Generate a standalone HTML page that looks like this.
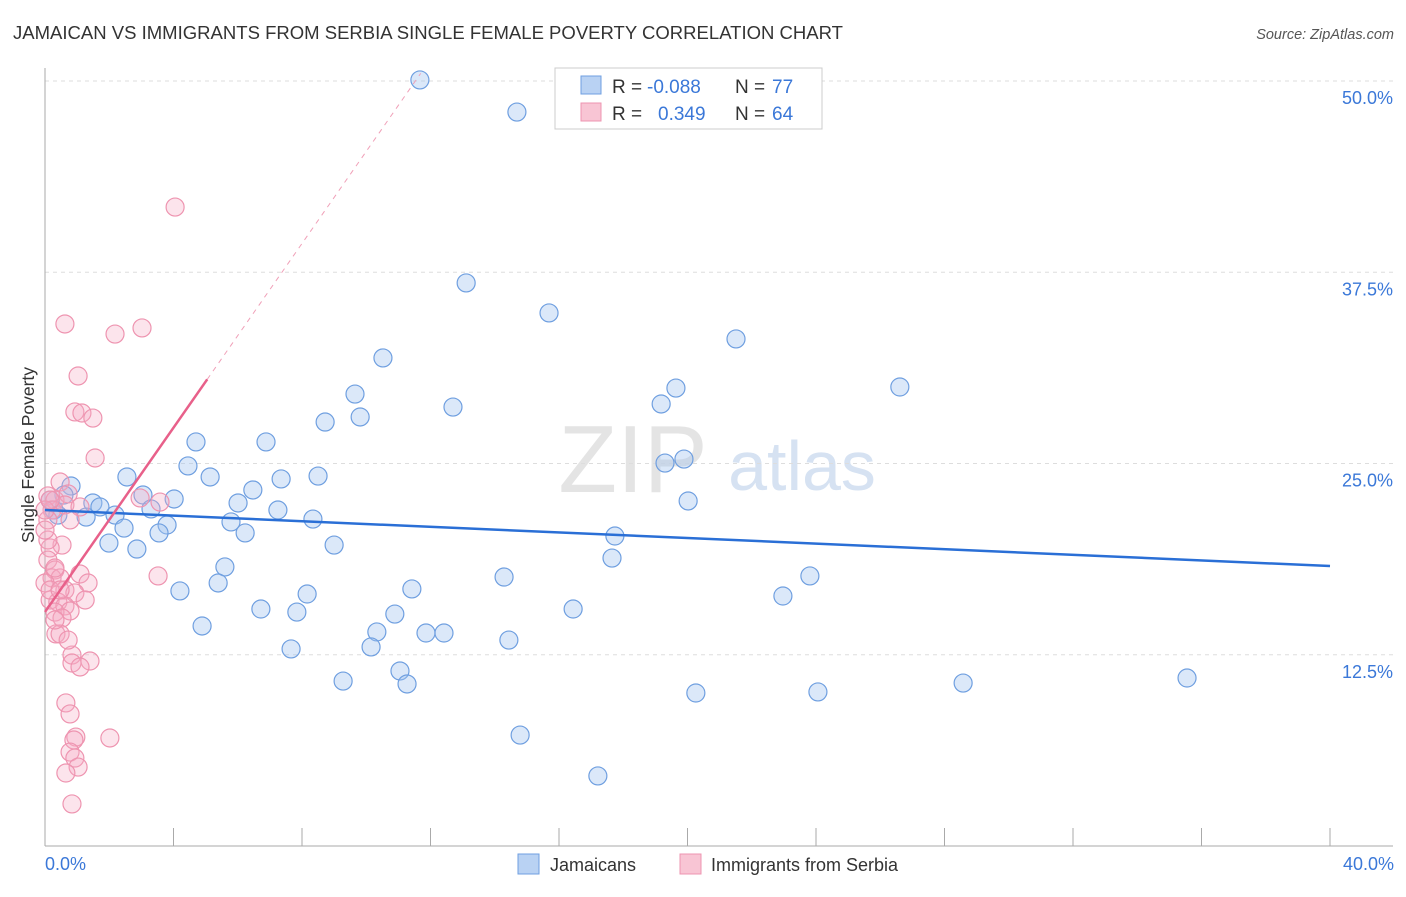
<!DOCTYPE html>
<html><head><meta charset="utf-8"><style>
body{margin:0;background:#fff;font-family:"Liberation Sans",sans-serif}
svg text{font-family:"Liberation Sans",sans-serif}
</style></head><body>
<svg id="c" width="1406" height="892">
<text x="13" y="39" font-size="18" fill="#333" textLength="830" lengthAdjust="spacingAndGlyphs">JAMAICAN VS IMMIGRANTS FROM SERBIA SINGLE FEMALE POVERTY CORRELATION CHART</text>
<text x="1394" y="39" font-size="14.5" fill="#555" font-style="italic" text-anchor="end">Source: ZipAtlas.com</text>
<g><text x="633" y="492" font-size="96" fill="#e4e4e4" font-family="Liberation Serif" text-anchor="middle">ZIP</text><text x="802" y="490" font-size="70" fill="#d6e2f2" text-anchor="middle">atlas</text></g>
<g id="grid"></g><g id="axes"></g><g id="pts"></g><g id="lines"></g>
<text transform="translate(34,455) rotate(-90)" font-size="17.5" fill="#333" text-anchor="middle">Single Female Poverty</text>
<text x="45" y="870" font-size="18" fill="#3b78d8">0.0%</text>
<text x="1394" y="870" font-size="18" fill="#3b78d8" text-anchor="end">40.0%</text>
<g>
<rect x="555" y="68" width="267" height="61" fill="#fff" stroke="#ccc"/>
<rect x="581" y="76" width="20" height="18" fill="#b9d2f3" stroke="#6f9fe0"/>
<rect x="581" y="103" width="20" height="18" fill="#f8c5d4" stroke="#ee94b0"/>
<text x="612" y="93" font-size="19" fill="#333">R =</text>
<text x="647" y="93" font-size="19" fill="#3b78d8">-0.088</text>
<text x="735" y="93" font-size="19" fill="#333">N =</text>
<text x="772" y="93" font-size="19" fill="#3b78d8">77</text>
<text x="612" y="120" font-size="19" fill="#333">R =</text>
<text x="658" y="120" font-size="19" fill="#3b78d8">0.349</text>
<text x="735" y="120" font-size="19" fill="#333">N =</text>
<text x="772" y="120" font-size="19" fill="#3b78d8">64</text>
</g>
<g><rect x="518" y="854" width="21" height="20" fill="#b9d2f3" stroke="#6f9fe0"/><text x="550" y="871" font-size="18" fill="#333">Jamaicans</text></g>
<g><rect x="680" y="854" width="21" height="20" fill="#f8c5d4" stroke="#ee94b0"/><text x="711" y="871" font-size="18" fill="#333">Immigrants from Serbia</text></g>
</svg>
<script>
const yTicks=[12.5,25,37.5,50];
const yTickLabels=["12.5%","25.0%","37.5%","50.0%"];
const xTicks=[0,4,8,12,16,20,24,28,32,36,40];
const blueX=[11.67,14.69,13.11,15.69,10.52,21.51,19.64,19.18,26.61,9.65,12.7,9.81,8.72,4.70,6.88,4.45,19.30,19.89,2.55,5.14,7.35,8.50,0.81,0.59,3.05,4.02,6.47,1.49,1.71,3.30,6.01,20.02,0.28,1.28,2.18,7.25,8.34,5.79,3.80,2.46,3.55,6.23,1.99,2.86,9.0,17.74,17.65,5.60,14.29,23.81,5.39,4.20,11.42,8.16,22.97,6.72,7.84,16.44,10.89,4.89,10.33,11.86,12.42,14.44,10.15,7.66,11.05,9.28,11.27,20.26,24.06,28.58,35.55,14.79,17.21,0.16,0.40];
const blueY=[50.07,47.97,36.8,34.84,31.9,33.14,29.93,28.89,30.0,29.54,28.69,28.04,27.71,26.41,26.41,24.84,25.03,25.29,24.12,24.12,23.99,24.18,23.53,22.94,22.94,22.68,23.27,22.42,22.16,22.03,22.42,22.55,21.96,21.5,21.63,21.96,21.37,21.18,20.98,20.78,20.46,20.46,19.8,19.41,19.67,20.26,18.82,18.24,17.58,17.65,17.19,16.67,16.8,16.47,16.34,15.49,15.29,15.49,15.16,14.38,13.99,13.92,13.92,13.46,13.01,12.88,11.44,10.78,10.59,10.0,10.07,10.65,10.98,7.25,4.58,22.61,21.63];
const pinkX=[4.05,0.62,3.02,2.18,1.03,0.93,1.15,1.49,1.56,0.47,0.09,0.31,0.72,0.22,3.58,2.96,0.62,1.09,0.78,0.09,0.53,0.16,0.09,0.31,0.22,0.47,1.09,3.52,1.34,0,0.62,0.93,0.16,0.40,0.62,0.78,0.31,0.53,0.34,0.47,1.40,0.84,0.84,1.09,0.65,0.78,2.02,0.96,0.90,0.78,0.93,1.03,0.65,0.84,0.16,0.47,0.31,0.09,0,0.31,0.72,1.25,0,0.16];
const pinkY=[41.76,34.12,33.86,33.46,30.72,28.37,28.3,27.97,25.36,23.79,22.88,22.61,23.01,21.96,22.48,22.75,22.29,22.16,21.31,21.31,19.67,19.48,18.69,18.04,17.52,17.52,17.78,17.65,17.19,17.19,16.73,16.54,16.08,15.95,15.69,15.36,15.29,14.9,13.86,13.86,12.09,12.48,11.96,11.7,9.35,8.63,7.06,7.12,6.93,6.14,5.75,5.16,4.77,2.75,16.73,16.73,18.17,20.0,21.96,14.77,13.46,16.08,20.65,22.61];
const blueTrend=[21.96,18.3];
const pinkTrend=[15.3,30.5,5.05];
const X=v=>45+v*32.125, Y=v=>846-v*15.3;
const NS="http://www.w3.org/2000/svg";
function mk(t,a,p){const e=document.createElementNS(NS,t);for(const k in a)e.setAttribute(k,a[k]);p.appendChild(e);return e;}
const grid=document.getElementById('grid');
yTicks.forEach((t,i)=>{
 const l=mk('line',{x1:45,x2:1393,y1:Y(t),y2:Y(t),stroke:'#ddd','stroke-dasharray':'4,4'},grid);
 
 
 const tx=mk('text',{x:1393,y:Y(t)+23,'font-size':18,fill:'#3b78d8','text-anchor':'end'},grid);
 tx.textContent=yTickLabels[i];
 
 
});
const ax=document.getElementById('axes');
let a1=mk('line',{x1:45,x2:45,y1:68,y2:846,stroke:'#aaa'},ax);


let a2=mk('line',{x1:45,x2:1393,y1:846,y2:846,stroke:'#aaa'},ax);


xTicks.forEach(t=>{const l=mk('line',{x1:X(t),x2:X(t),y1:828,y2:846,stroke:'#aaa'},ax);
 
 });
const pts=document.getElementById('pts');
blueX.forEach((x,i)=>{const c=mk('circle',{cx:X(x),cy:Y(blueY[i]),r:9,fill:'rgba(160,195,240,0.38)',stroke:'#6f9fe0','stroke-width':1.2},pts);
 
 });
pinkX.forEach((x,i)=>{const c=mk('circle',{cx:X(x),cy:Y(pinkY[i]),r:9,fill:'rgba(245,170,195,0.32)',stroke:'#ee94b0','stroke-width':1.2},pts);
 
 });
const ln=document.getElementById('lines');
let b=mk('line',{x1:X(0),y1:Y(blueTrend[0]),x2:X(40),y2:Y(blueTrend[1]),stroke:'#2a6fd6','stroke-width':2.5},ln);


const slope=(pinkTrend[1]-pinkTrend[0])/pinkTrend[2];
const xEnd=(50.5-pinkTrend[0])/slope;
let pd=mk('line',{x1:X(pinkTrend[2]),y1:Y(pinkTrend[1]),x2:X(xEnd),y2:Y(50.5),stroke:'#f0a0b8','stroke-width':1,'stroke-dasharray':'5,5'},ln);


let p=mk('line',{x1:X(0),y1:Y(pinkTrend[0]),x2:X(pinkTrend[2]),y2:Y(pinkTrend[1]),stroke:'#e8608a','stroke-width':2.5},ln);


</script>
</body></html>
